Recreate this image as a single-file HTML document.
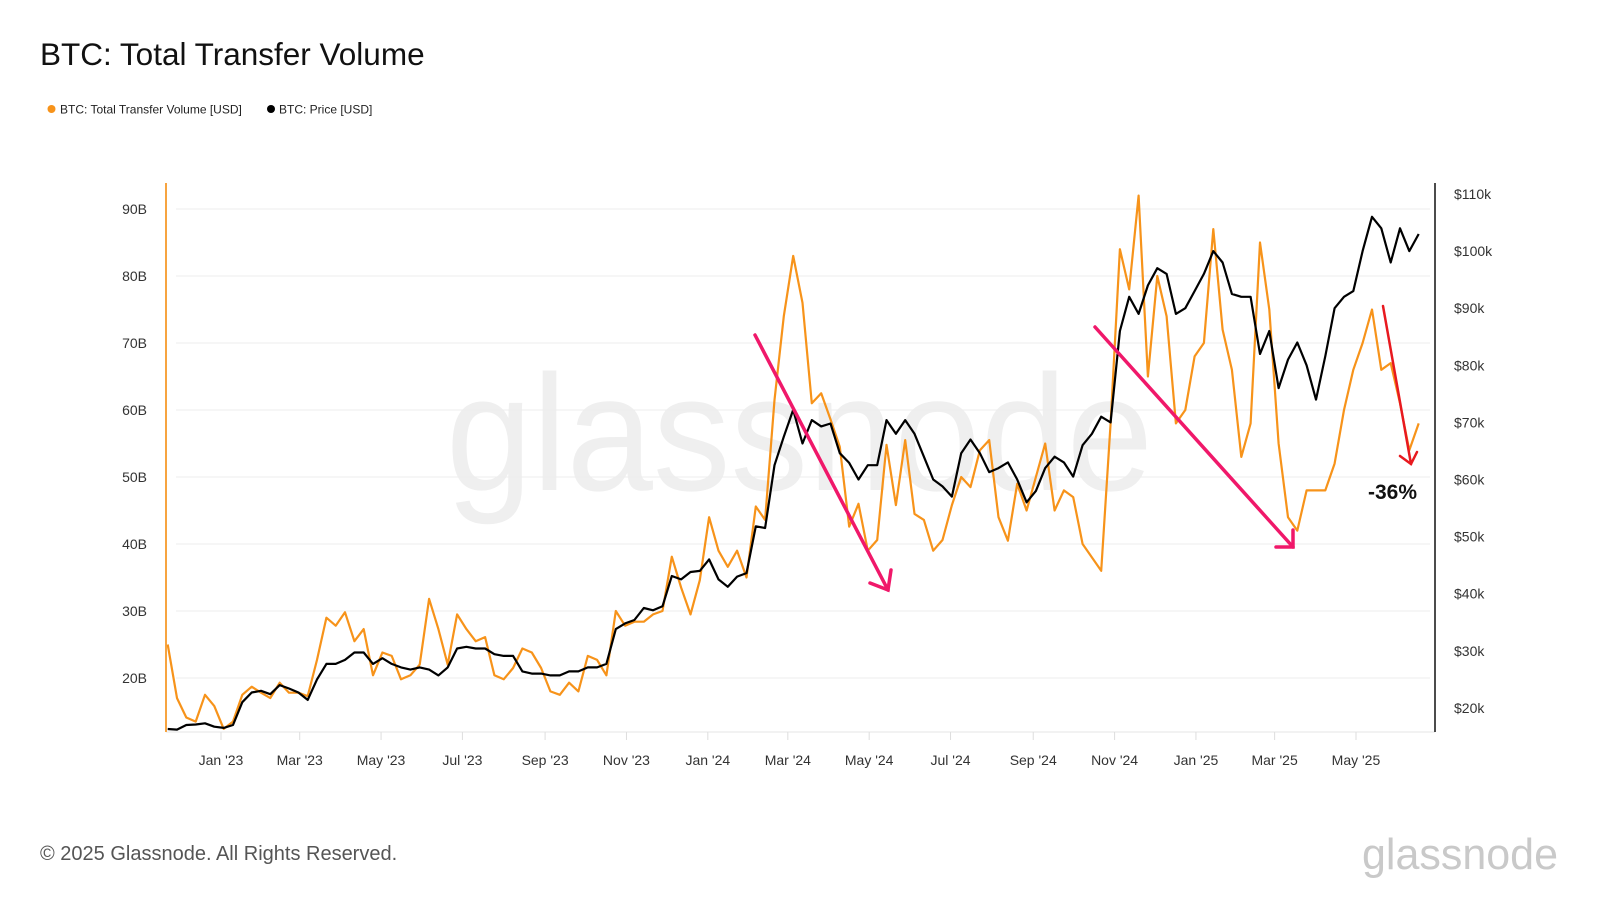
<!DOCTYPE html>
<html><head><meta charset="utf-8"><title>BTC: Total Transfer Volume</title>
<style>
html,body{margin:0;padding:0;background:#fff;width:1600px;height:900px;overflow:hidden;font-family:"Liberation Sans",sans-serif;}
</style></head>
<body>
<svg id="chart" width="1600" height="900" xmlns="http://www.w3.org/2000/svg" font-family="Liberation Sans, sans-serif">
  <text x="40" y="65" font-size="31.5" fill="#111">BTC: Total Transfer Volume</text>
  <g>
    <g><circle cx="51.5" cy="109" r="4" fill="#f7931a"/><text x="60" y="113.5" font-size="12" fill="#222">BTC: Total Transfer Volume [USD]</text></g>
    <g><circle cx="271" cy="109" r="4" fill="#000"/><text x="279" y="113.5" font-size="12" fill="#222">BTC: Price [USD]</text></g>
  </g>
  <text x="446" y="490" font-size="165" textLength="707" lengthAdjust="spacingAndGlyphs" fill="#efefef">glassnode</text>
  <g id="grid"></g>
  <g id="axes"></g>
  <g id="series"></g>
  <g>
    <g stroke="#f0186a" stroke-width="3.5" fill="none" stroke-linecap="round">
      <line x1="755" y1="335" x2="888" y2="590"/><polyline points="870,583 888,590 891,570"/>
    </g>
    <g stroke="#f0186a" stroke-width="3.5" fill="none" stroke-linecap="round">
      <line x1="1095" y1="327" x2="1293" y2="547"/><polyline points="1276,547 1293,547 1293,530"/>
    </g>
    <g stroke="#e8191f" stroke-width="2.5" fill="none" stroke-linecap="round">
      <line x1="1383" y1="306" x2="1411" y2="464"/><polyline points="1400,456 1411,464 1417,452"/>
    </g>
    <text x="1368" y="499" font-size="21" font-weight="bold" fill="#111">-36%</text>
  </g>
  <text x="40" y="860" font-size="20" fill="#555">© 2025 Glassnode. All Rights Reserved.</text>
  <text x="1362" y="869" font-size="44" textLength="196" lengthAdjust="spacingAndGlyphs" fill="#c9c9c9">glassnode</text>
</svg>
<script>
const startDate = "2022-11-22";
const stepDays = 7;
const volumeB = [25,17,14.1,13.5,17.5,15.8,12.4,13.5,17.5,18.7,17.8,17,19.3,17.8,17.8,17.3,22.7,29,27.8,29.8,25.5,27.3,20.4,23.8,23.3,19.8,20.4,22,31.8,27.3,22,29.5,27.3,25.5,26.1,20.4,19.8,21.5,24.4,23.8,21.5,18,17.5,19.3,18,23.3,22.7,20.4,30,27.8,28.4,28.4,29.5,30,38.1,33.5,29.5,34.6,44,39,36.6,39,35,45.6,43.6,61.5,74,83,76,61,62.5,58.6,54.5,42.6,46,39,40.6,54.8,45.8,55.5,44.5,43.6,39,40.6,45.8,50,48.5,54,55.5,44,40.5,49,45,50,55,45,48,47,40,38,36,58,84,78,92,65,80,74,58,60,68,70,87,72,66,53,58,85,75,55,44,42,48,48,48,52,60,66,70,75,66,67,61,54,58];
const priceK = [16.3,16.2,17,17.1,17.3,16.7,16.5,17,21,22.7,23,22.4,24,23.4,22.7,21.4,25,27.7,27.7,28.4,29.7,29.7,27.7,28.7,27.7,27.1,26.7,27.1,26.7,25.7,27.1,30.4,30.7,30.4,30.4,29.4,29.1,29.1,26.4,26,26,25.7,25.7,26.4,26.4,27.1,27.1,27.7,33.8,34.8,35.4,37.5,37.1,37.8,43.1,42.5,43.8,44,46,42.5,41.2,43,43.6,51.8,51.5,62.5,67.5,72.2,66.3,70.4,69.3,69.8,64.6,62.9,60,62.5,62.5,70.4,68,70.4,68,64,60,58.8,57,64.6,67,64.6,61.3,62,63,60,56,58,62,64,63,60.5,66,68,71,70,86,92,89,94,97,96,89,90,93,96,100,98,92.5,92,92,82,86,76,81,84,80,74,81.6,90,92,93,100,106,104,98,104,100,103];
const volTicks = [20,30,40,50,60,70,80,90];
const priceTicks = [20,30,40,50,60,70,80,90,100,110];
const monthTicks = ["2023-01-01","2023-03-01","2023-05-01","2023-07-01","2023-09-01","2023-11-01","2024-01-01","2024-03-01","2024-05-01","2024-07-01","2024-09-01","2024-11-01","2025-01-01","2025-03-01","2025-05-01"];
const monthLabels = ["Jan '23","Mar '23","May '23","Jul '23","Sep '23","Nov '23","Jan '24","Mar '24","May '24","Jul '24","Sep '24","Nov '24","Jan '25","Mar '25","May '25"];

const NS = "http://www.w3.org/2000/svg";
const DAY = 86400000;
const t0 = Date.parse("2023-01-01T00:00:00Z");
function xScale(ms){ return 221 + (ms - t0)/DAY*1.3337; }
function yVol(v){ return 209 + (90 - v)*6.7; }
function yPrice(p){ return 194 + (110 - p)*5.71; }
function mk(tag, attrs){ const e=document.createElementNS(NS,tag); for(const k in attrs) e.setAttribute(k,attrs[k]); return e; }

const grid=document.getElementById('grid'), axes=document.getElementById('axes'), series=document.getElementById('series');
volTicks.forEach(v=>{
  const l=mk('line',{x1:176,x2:1430,y1:yVol(v),y2:yVol(v),stroke:'#ececec','stroke-width':1});
  
  
  grid.appendChild(l);
  const t=mk('text',{x:147,y:yVol(v)+5,'font-size':14,'text-anchor':'end',fill:'#333'});
  t.textContent=v+'B';
  
  
  axes.appendChild(t);
});
priceTicks.forEach(p=>{
  const t=mk('text',{x:1454,y:yPrice(p)+5,'font-size':14,fill:'#333'});
  t.textContent='$'+p+'k';
  
  
  axes.appendChild(t);
});
const base=mk('line',{x1:166,x2:1435,y1:732,y2:732,stroke:'#e6e6e6','stroke-width':1});


axes.appendChild(base);
monthTicks.forEach((d,i)=>{
  const x=xScale(Date.parse(d+"T00:00:00Z"));
  const tk=mk('line',{x1:x,x2:x,y1:732,y2:740,stroke:'#ddd','stroke-width':1});
  
  
  axes.appendChild(tk);
  const t=mk('text',{x:x,y:765,'font-size':14,'text-anchor':'middle',fill:'#333'});
  t.textContent=monthLabels[i];
  
  
  axes.appendChild(t);
});
const la=mk('line',{x1:166,x2:166,y1:183,y2:732,stroke:'#f7a440','stroke-width':2});


axes.appendChild(la);
const ra=mk('line',{x1:1435,x2:1435,y1:183,y2:732,stroke:'#111','stroke-width':1.5});


axes.appendChild(ra);

const s0=Date.parse(startDate+"T00:00:00Z");
function pathFor(arr, yf){
  return arr.map((v,i)=>(i?'L':'M')+xScale(s0+i*stepDays*DAY).toFixed(1)+','+yf(v).toFixed(1)).join(' ');
}
const pv=mk('path',{d:pathFor(volumeB,yVol),fill:'none',stroke:'#f7931a','stroke-width':2.2,'stroke-linejoin':'round'});


series.appendChild(pv);
const pp=mk('path',{d:pathFor(priceK,yPrice),fill:'none',stroke:'#000','stroke-width':2.2,'stroke-linejoin':'round'});


series.appendChild(pp);
</script>
</body></html>
